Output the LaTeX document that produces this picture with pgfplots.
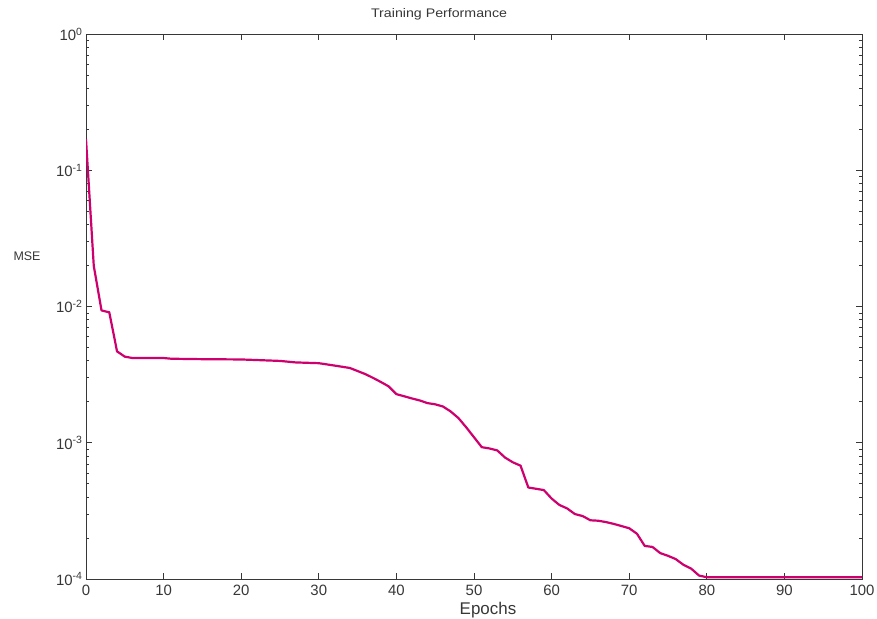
\documentclass[border=0pt]{standalone}
\usepackage{pgfplots}
\pgfplotsset{compat=1.18}
\usepackage{graphicx}
\usepackage{fontspec}
\setmainfont{Liberation Sans}
\definecolor{mse}{RGB}{205,0,110}
\definecolor{axgray}{RGB}{55,55,55}
\begin{document}
\begin{tikzpicture}[x=1bp,y=1bp]
\path[use as bounding box] (0,0) rectangle (877,619);
\begin{axis}[
  at={(86bp,40bp)}, anchor=south west,
  scale only axis, width=776bp, height=544.5bp,
  xmin=0, xmax=100, ymode=log, ymin=1e-4, ymax=1,
  axis line style={axgray, line width=1pt},
  tick style={axgray, line width=0.9pt},
  major tick length=6bp, minor tick length=3.5bp,
  tick align=inside,
  xtick={0,10,...,100},
  xticklabels={0,10,20,30,40,50,60,70,80,90,100},
  ytick={1e-4,1e-3,1e-2,1e-1,1},
  yticklabels={10\textsuperscript{-4},10\textsuperscript{-3},10\textsuperscript{-2},10\textsuperscript{-1},10\textsuperscript{0}},
  ticklabel style={font=\fontsize{15}{16}\selectfont, text=axgray},
  xticklabel style={yshift=-2.5bp},
  yticklabel style={xshift=0bp},
  title={\scalebox{1.14}[1]{Training Performance}},
  title style={font=\fontsize{12.5}{14}\selectfont, at={(axis description cs:0.455,1.0266)}, anchor=center, text=axgray},
  xlabel={Epochs},
  xlabel style={font=\fontsize{17}{18}\selectfont, at={(axis description cs:0.518,-0.057)}, anchor=center, text=axgray},
  ylabel={MSE},
  ylabel style={font=\fontsize{12.5}{14}\selectfont, rotate=-90, at={(axis description cs:-0.076,0.593)}, anchor=center, text=axgray},
]
\addplot[mse, line width=2.2bp, line join=round] coordinates {
(0,0.17) (1,0.02) (2,0.0094) (3,0.0091) (4,0.0047) (5,0.0043) (6,0.0042) (8,0.0042)
(10,0.0042) (11,0.00415) (15,0.00412) (20,0.0041) (25,0.0040) (27,0.0039) (30,0.00385)
(32,0.0037) (34,0.00355) (36,0.0032) (37,0.0030) (38,0.0028) (39,0.0026) (40,0.00228)
(41,0.00220) (42,0.00212) (43,0.00205) (44,0.00196) (45,0.00192) (46,0.00185) (47,0.0017)
(48,0.00152) (49,0.0013) (50,0.0011) (51,0.00093) (52,0.00091) (53,0.00088) (54,0.00078)
(55,0.00072) (56,0.00068) (57,0.00047) (58,0.00046) (59,0.00045) (60,0.00039) (61,0.00035)
(62,0.00033) (63,0.00030) (64,0.00029) (65,0.00027) (66,0.000268) (67,0.000262) (68,0.000254)
(69,0.000245) (70,0.000236) (71,0.000215) (72,0.000175) (73,0.000172) (74,0.000155)
(75,0.000148) (76,0.000140) (77,0.000127) (78,0.000119) (79,0.000106) (80,0.000103)
(100,0.000103)
};
\end{axis}
\end{tikzpicture}
\end{document}
